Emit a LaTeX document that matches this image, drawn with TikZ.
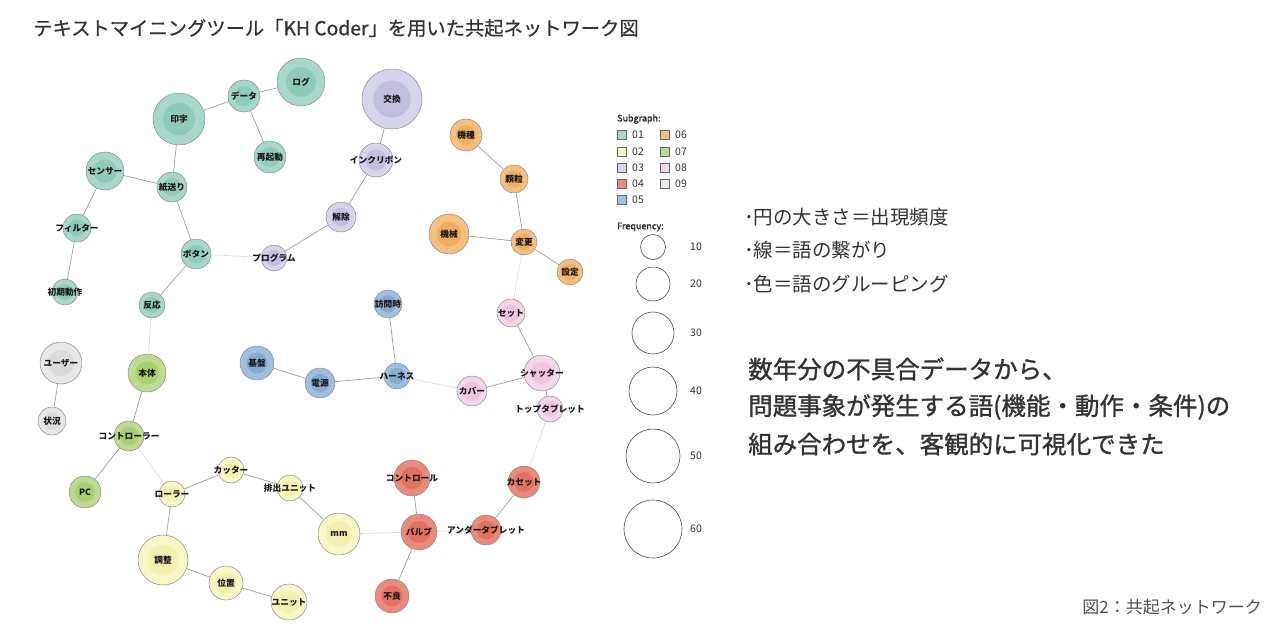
\documentclass[tikz,border=0pt]{standalone}
\usepackage{fontspec}
\setmainfont{Noto Sans CJK JP}
\newfontfamily\jpm{Noto Sans CJK JP}[FakeBold=1.2]
\newfontfamily\jpl{Noto Sans CJK JP}[FakeBold=0.6]
\usetikzlibrary{backgrounds}
\definecolor{g1o}{HTML}{A6D7CA}\definecolor{g1i}{HTML}{8ECCB9}
\definecolor{g2o}{HTML}{F8F7C8}\definecolor{g2i}{HTML}{F3F1B0}
\definecolor{g3o}{HTML}{D6D4EA}\definecolor{g3i}{HTML}{C2BEDD}
\definecolor{g4o}{HTML}{E98A7C}\definecolor{g4i}{HTML}{E27260}
\definecolor{g5o}{HTML}{9FBFDC}\definecolor{g5i}{HTML}{87ABD0}
\definecolor{g6o}{HTML}{F5BF80}\definecolor{g6i}{HTML}{F1AD62}
\definecolor{g7o}{HTML}{BDDB90}\definecolor{g7i}{HTML}{A9D070}
\definecolor{g8o}{HTML}{F6D6E9}\definecolor{g8i}{HTML}{F0C4DD}
\definecolor{g9o}{HTML}{E7E7E7}\definecolor{g9i}{HTML}{DBDBDB}
\definecolor{ringc}{HTML}{8C8C8C}
\definecolor{txt}{HTML}{333333}
\tikzset{
  lbl/.style={font=\bfseries\fontsize{8.7}{9}\selectfont, text=black!90, inner sep=0pt},
  wn/.style n args={3}{circle, inner sep=0pt, minimum size=2*#1 pt, draw=ringc, line width=0.5pt,
    fill=#2o, path picture={\fill[#2i] (path picture bounding box.center) circle (0.62*#1 pt);},
    label={[lbl]center:#3}},
  e/.style={draw=gray!75, line width=0.7pt},
  le/.style={draw=gray!28, line width=0.7pt},
  sq/.style={draw=gray!80!black, line width=0.5pt, minimum size=9pt, inner sep=0pt},
  fc/.style={circle, draw=gray!60!black, line width=0.6pt, inner sep=0pt, minimum size=#1},
  legt/.style={font=\fontsize{10.5}{11}\selectfont, text=txt, anchor=west, inner sep=0pt},
  legh/.style={font=\jpm\fontsize{9}{10}\selectfont, text=black!85, anchor=west, inner sep=0pt},
  bul/.style={anchor=west, text=txt, font=\fontsize{19.5}{22}\selectfont, inner sep=0},
  big/.style={anchor=west, text=txt, font=\jpm\fontsize{24.5}{26}\selectfont, inner sep=0},
}
\begin{document}
\begin{tikzpicture}[x=1pt,y=-1pt]
\useasboundingbox (0,0) rectangle (1280,632);
% title
\node[anchor=west, text=txt, font=\jpl\fontsize{19.3}{20}\selectfont, inner sep=0] (title) at (33,28) {テキストマイニングツール「KH Coder」を用いた共起ネットワーク図};
% group 01
\node[wn={26}{g1}{印字}] (inji) at (179,119) {};
\node[wn={16}{g1}{データ}] (data) at (244,96) {};
\node[wn={24}{g1}{ログ}] (log) at (301,82) {};
\node[wn={16}{g1}{再起動}] (saikido) at (270,157) {};
\node[wn={19}{g1}{センサー}] (sensor) at (105,171) {};
\node[wn={15}{g1}{紙送り}] (kami) at (172,187) {};
\node[wn={14}{g1}{フィルター}] (filter) at (77,228) {};
\node[wn={13}{g1}{初期動作}] (shoki) at (65,292) {};
\node[wn={15}{g1}{ボタン}] (button) at (196,254) {};
\node[wn={13}{g1}{反応}] (hanno) at (152,305) {};
% group 03
\node[wn={13}{g3}{プログラム}] (prog) at (274,258) {};
\node[wn={30}{g3}{交換}] (kokan) at (392,99) {};
\node[wn={17}{g3}{インクリボン}] (ink) at (376,160) {};
\node[wn={15}{g3}{解除}] (kaijo) at (341,217) {};
% group 06
\node[wn={16}{g6}{機種}] (kishu) at (466,135) {};
\node[wn={14}{g6}{顆粒}] (karyu) at (514,179) {};
\node[wn={20}{g6}{機械}] (kikai) at (449,234) {};
\node[wn={13}{g6}{変更}] (henko) at (524,242) {};
\node[wn={13}{g6}{設定}] (settei) at (570,272) {};
% group 05
\node[wn={14}{g5}{訪問時}] (homon) at (388,304) {};
\node[wn={13}{g5}{ハーネス}] (harness) at (397,376) {};
\node[wn={15}{g5}{電源}] (dengen) at (320,383) {};
\node[wn={17}{g5}{基盤}] (kiban) at (257,363) {};
% group 08
\node[wn={14}{g8}{セット}] (set) at (511,313) {};
\node[wn={18}{g8}{シャッター}] (shutter) at (542,373) {};
\node[wn={13}{g8}{トップタブレット}] (top) at (550,409) {};
\node[wn={15}{g8}{カバー}] (cover) at (472,391) {};
% group 09
\node[wn={21}{g9}{ユーザー}] (user) at (61,363) {};
\node[wn={14}{g9}{状況}] (jokyo) at (52,421) {};
% group 07
\node[wn={19}{g7}{本体}] (hontai) at (147,373) {};
\node[wn={15}{g7}{コントローラー}] (ctrl) at (129,436) {};
\node[wn={16}{g7}{PC}] (pc) at (85,492) {};
% group 02
\node[wn={13}{g2}{ローラー}] (roller) at (172,494) {};
\node[wn={13}{g2}{カッター}] (cutter) at (231,470) {};
\node[wn={13}{g2}{排出ユニット}] (haishutsu) at (290,488) {};
\node[wn={21}{g2}{mm}] (mm) at (339,534) {};
\node[wn={25}{g2}{調整}] (chosei) at (163,560) {};
\node[wn={17}{g2}{位置}] (ichi) at (226,583) {};
\node[wn={18}{g2}{ユニット}] (unit) at (289,602) {};
% group 04
\node[wn={18}{g4}{コントロール}] (control) at (412,478) {};
\node[wn={18}{g4}{バルブ}] (valve) at (419,532) {};
\node[wn={15}{g4}{アンダータブレット}] (under) at (486,530) {};
\node[wn={16}{g4}{カセット}] (cassette) at (524,482) {};
\node[wn={17}{g4}{不良}] (furyo) at (392,596) {};
% edges
\begin{pgfonlayer}{background}
\draw[e] (data) -- (log);
\draw[e] (inji) -- (data);
\draw[e] (data) -- (saikido);
\draw[e] (inji) -- (kami);
\draw[e] (sensor) -- (kami);
\draw[e] (sensor) -- (filter);
\draw[e] (filter) -- (shoki);
\draw[e] (kami) -- (button);
\draw[e] (button) -- (hanno);
\draw[le] (button) -- (prog);
\draw[e] (prog) -- (kaijo);
\draw[e] (kaijo) -- (ink);
\draw[e] (ink) -- (kokan);
\draw[e] (kishu) -- (karyu);
\draw[e] (karyu) -- (henko);
\draw[e] (kikai) -- (henko);
\draw[e] (henko) -- (settei);
\draw[le] (henko) -- (set);
\draw[e] (set) -- (shutter);
\draw[e] (shutter) -- (top);
\draw[e] (shutter) -- (cover);
\draw[le] (cover) -- (harness);
\draw[e] (harness) -- (homon);
\draw[e] (harness) -- (dengen);
\draw[e] (dengen) -- (kiban);
\draw[le] (top) -- (cassette);
\draw[e] (cassette) -- (under);
\draw[le] (under) -- (valve);
\draw[e] (valve) -- (control);
\draw[e] (valve) -- (furyo);
\draw[le] (valve) -- (mm);
\draw[e] (mm) -- (haishutsu);
\draw[e] (haishutsu) -- (cutter);
\draw[e] (cutter) -- (roller);
\draw[e] (roller) -- (chosei);
\draw[e] (chosei) -- (ichi);
\draw[e] (ichi) -- (unit);
\draw[le] (roller) -- (ctrl);
\draw[e] (ctrl) -- (hontai);
\draw[e] (ctrl) -- (pc);
\draw[le] (hontai) -- (hanno);
\draw[e] (user) -- (jokyo);
\end{pgfonlayer}
% legend
\node[legh] (subg) at (617,119) {Subgraph:};
\node[sq, fill=g1o] (s1) at (622,135) {}; \node[legt] (t1) at (632,135) {01};
\node[sq, fill=g2o] (s2) at (622,152) {}; \node[legt] (t2) at (632,152) {02};
\node[sq, fill=g3o] (s3) at (622,168) {}; \node[legt] (t3) at (632,168) {03};
\node[sq, fill=g4o] (s4) at (622,184) {}; \node[legt] (t4) at (632,184) {04};
\node[sq, fill=g5o] (s5) at (622,200) {}; \node[legt] (t5) at (632,200) {05};
\node[sq, fill=g6o] (s6) at (665,135) {}; \node[legt] (t6) at (675,135) {06};
\node[sq, fill=g7o] (s7) at (665,152) {}; \node[legt] (t7) at (675,152) {07};
\node[sq, fill=g8o] (s8) at (665,168) {}; \node[legt] (t8) at (675,168) {08};
\node[sq, fill=g9o] (s9) at (665,184) {}; \node[legt] (t9) at (675,184) {09};
\node[legh] (freq) at (617,227) {Frequency:};
\node[fc=25pt] (f10) at (653,247) {}; \node[legt] (l10) at (690,247) {10};
\node[fc=34pt] (f20) at (653,284) {}; \node[legt] (l20) at (690,284) {20};
\node[fc=42pt] (f30) at (653,333) {}; \node[legt] (l30) at (690,333) {30};
\node[fc=48pt] (f40) at (653,391) {}; \node[legt] (l40) at (690,391) {40};
\node[fc=54pt] (f50) at (653,456) {}; \node[legt] (l50) at (690,456) {50};
\node[fc=58pt] (f60) at (653,529) {}; \node[legt] (l60) at (690,529) {60};
% right text
\node[bul] (b1) at (744,217) {･円の大きさ＝出現頻度};
\node[bul] (b2) at (744,250) {･線＝語の繋がり};
\node[bul] (b3) at (744,284) {･色＝語のグルーピング};
\node[big] (m1) at (748,369) {数年分の不具合データから、};
\node[big] (m2) at (748,407) {問題事象が発生する語(機能・動作・条件)の};
\node[big] (m3) at (748,444) {組み合わせを、客観的に可視化できた};
\node[anchor=east, text=txt!85, font=\fontsize{17}{18}\selectfont, inner sep=0] (cap) at (1262,607) {図2：共起ネットワーク};
\end{tikzpicture}
\end{document}
